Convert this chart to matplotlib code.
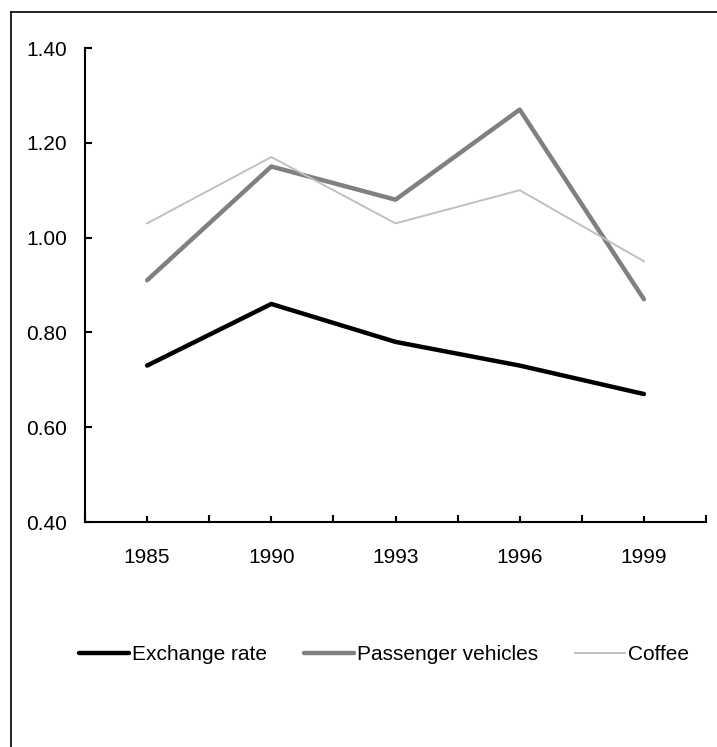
import matplotlib
matplotlib.use("Agg")
import matplotlib.pyplot as plt
from matplotlib.lines import Line2D
import numpy as np

plt.rcParams['font.family'] = ['Liberation Sans', 'DejaVu Sans']

years = ["1985", "1990", "1993", "1996", "1999"]
exchange_rate = [0.73, 0.86, 0.78, 0.73, 0.67]
passenger_vehicles = [0.91, 1.15, 1.08, 1.27, 0.87]
coffee = [1.03, 1.17, 1.03, 1.10, 0.95]

W, H = 717, 747
fig = plt.figure(figsize=(W / 100, H / 100), dpi=100)
ax = fig.add_axes([85 / W, 1 - 522 / H, (706 - 85) / W, (522 - 48) / H])

x = np.arange(len(years))
ax.plot(x, exchange_rate, color="black", lw=3.2, solid_capstyle="round", label="Exchange rate")
ax.plot(x, passenger_vehicles, color="#808080", lw=3.2, solid_capstyle="round", label="Passenger vehicles")
ax.plot(x, coffee, color="#c0c0c0", lw=1.4, label="Coffee")

ax.set_xlim(-0.5, len(years) - 0.5)
ax.set_ylim(0.4, 1.4)
yt = np.arange(0.4, 1.41, 0.2)
ax.set_yticks(yt)
ax.set_yticklabels([f"{v:.2f}" for v in yt])
ax.set_xticks(x)
ax.set_xticklabels(years)
ax.set_xticks(np.arange(-0.5, len(years)), minor=True)

ax.spines["top"].set_visible(False)
ax.spines["right"].set_visible(False)
for s in ("left", "bottom"):
    ax.spines[s].set_linewidth(1.5)

ax.tick_params(axis="y", direction="in", length=5, width=1.5, pad=13, labelsize=15)
ax.tick_params(axis="x", which="major", direction="in", length=4, width=1.5, pad=19, labelsize=15)
ax.tick_params(axis="x", which="minor", direction="in", length=5, width=1.5)

fig.legend(loc="center", bbox_to_anchor=(384 / W, 1 - 655 / H), ncol=3, frameon=False,
           fontsize=15, handlelength=2.4, handletextpad=0.12, columnspacing=1.8)

# outer frame (top and left edges visible)
fig.add_artist(Line2D([11 / W, 1.0], [1 - 12 / H, 1 - 12 / H], transform=fig.transFigure,
                      color="black", lw=1.2))
fig.add_artist(Line2D([11 / W, 11 / W], [0.0, 1 - 12 / H], transform=fig.transFigure,
                      color="black", lw=1.2))

fig.savefig("out.png", dpi=100)
